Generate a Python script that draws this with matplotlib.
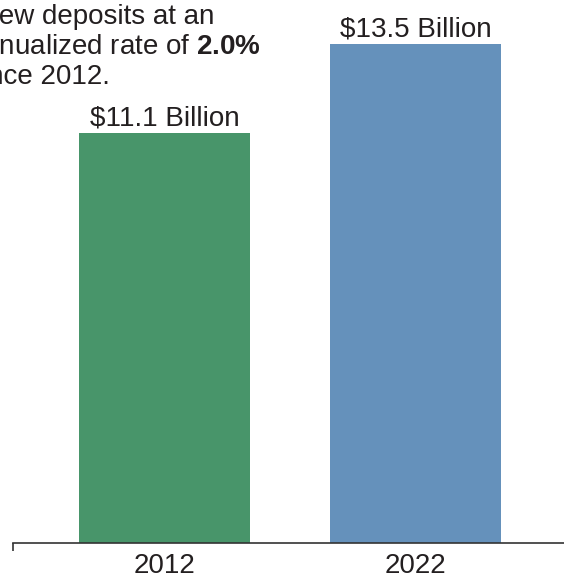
import matplotlib
matplotlib.use("Agg")
import matplotlib.pyplot as plt

plt.rcParams["font.family"] = ["Liberation Sans", "DejaVu Sans"]
plt.rcParams["mathtext.fontset"] = "custom"
plt.rcParams["mathtext.rm"] = "Liberation Sans"
plt.rcParams["mathtext.bf"] = "Liberation Sans:bold"

years = ["2012", "2022"]
deposits = [11.1, 13.5]  # $ billions
labels = ["$11.1 Billion", "$13.5 Billion"]
colors = ["#48956A", "#6591BB"]
note = "Grew deposits at an\nannualized rate of $\\mathbf{2.0\\%}$\nsince 2012."

TEXT = "#231F20"

fig = plt.figure(figsize=(5.64, 5.80), dpi=100)
ax = fig.add_axes([0.023, 0.0638, 0.977, 0.9362])

x = range(len(years))
bars = ax.bar(x, deposits, width=0.68, color=colors)
ax.bar_label(bars, labels=labels, padding=1, fontsize=20, color=TEXT)

xmin, xmax = -0.6036, 1.5916
ax.set_xlim(xmin, xmax)
ax.set_ylim(0, 14.69)
ax.set_xticks(list(x))
ax.set_xticklabels(years, fontsize=20, color=TEXT)
ax.set_xticks([xmin], minor=True)
ax.tick_params(axis="x", which="major", length=0, pad=7.5)
ax.tick_params(axis="x", which="minor", length=6, width=1.2, color="#333333")
ax.set_yticks([])
for side in ("top", "right", "left"):
    ax.spines[side].set_visible(False)
ax.spines["bottom"].set_color("#333333")
ax.spines["bottom"].set_linewidth(1.2)

# annotation runs off the left edge, as in the source graphic
fig.text(-32 / 564, 0.993, note, ha="left", va="top", fontsize=20,
         color=TEXT, linespacing=1.2)

fig.savefig("out.png", dpi=100, facecolor="white")
